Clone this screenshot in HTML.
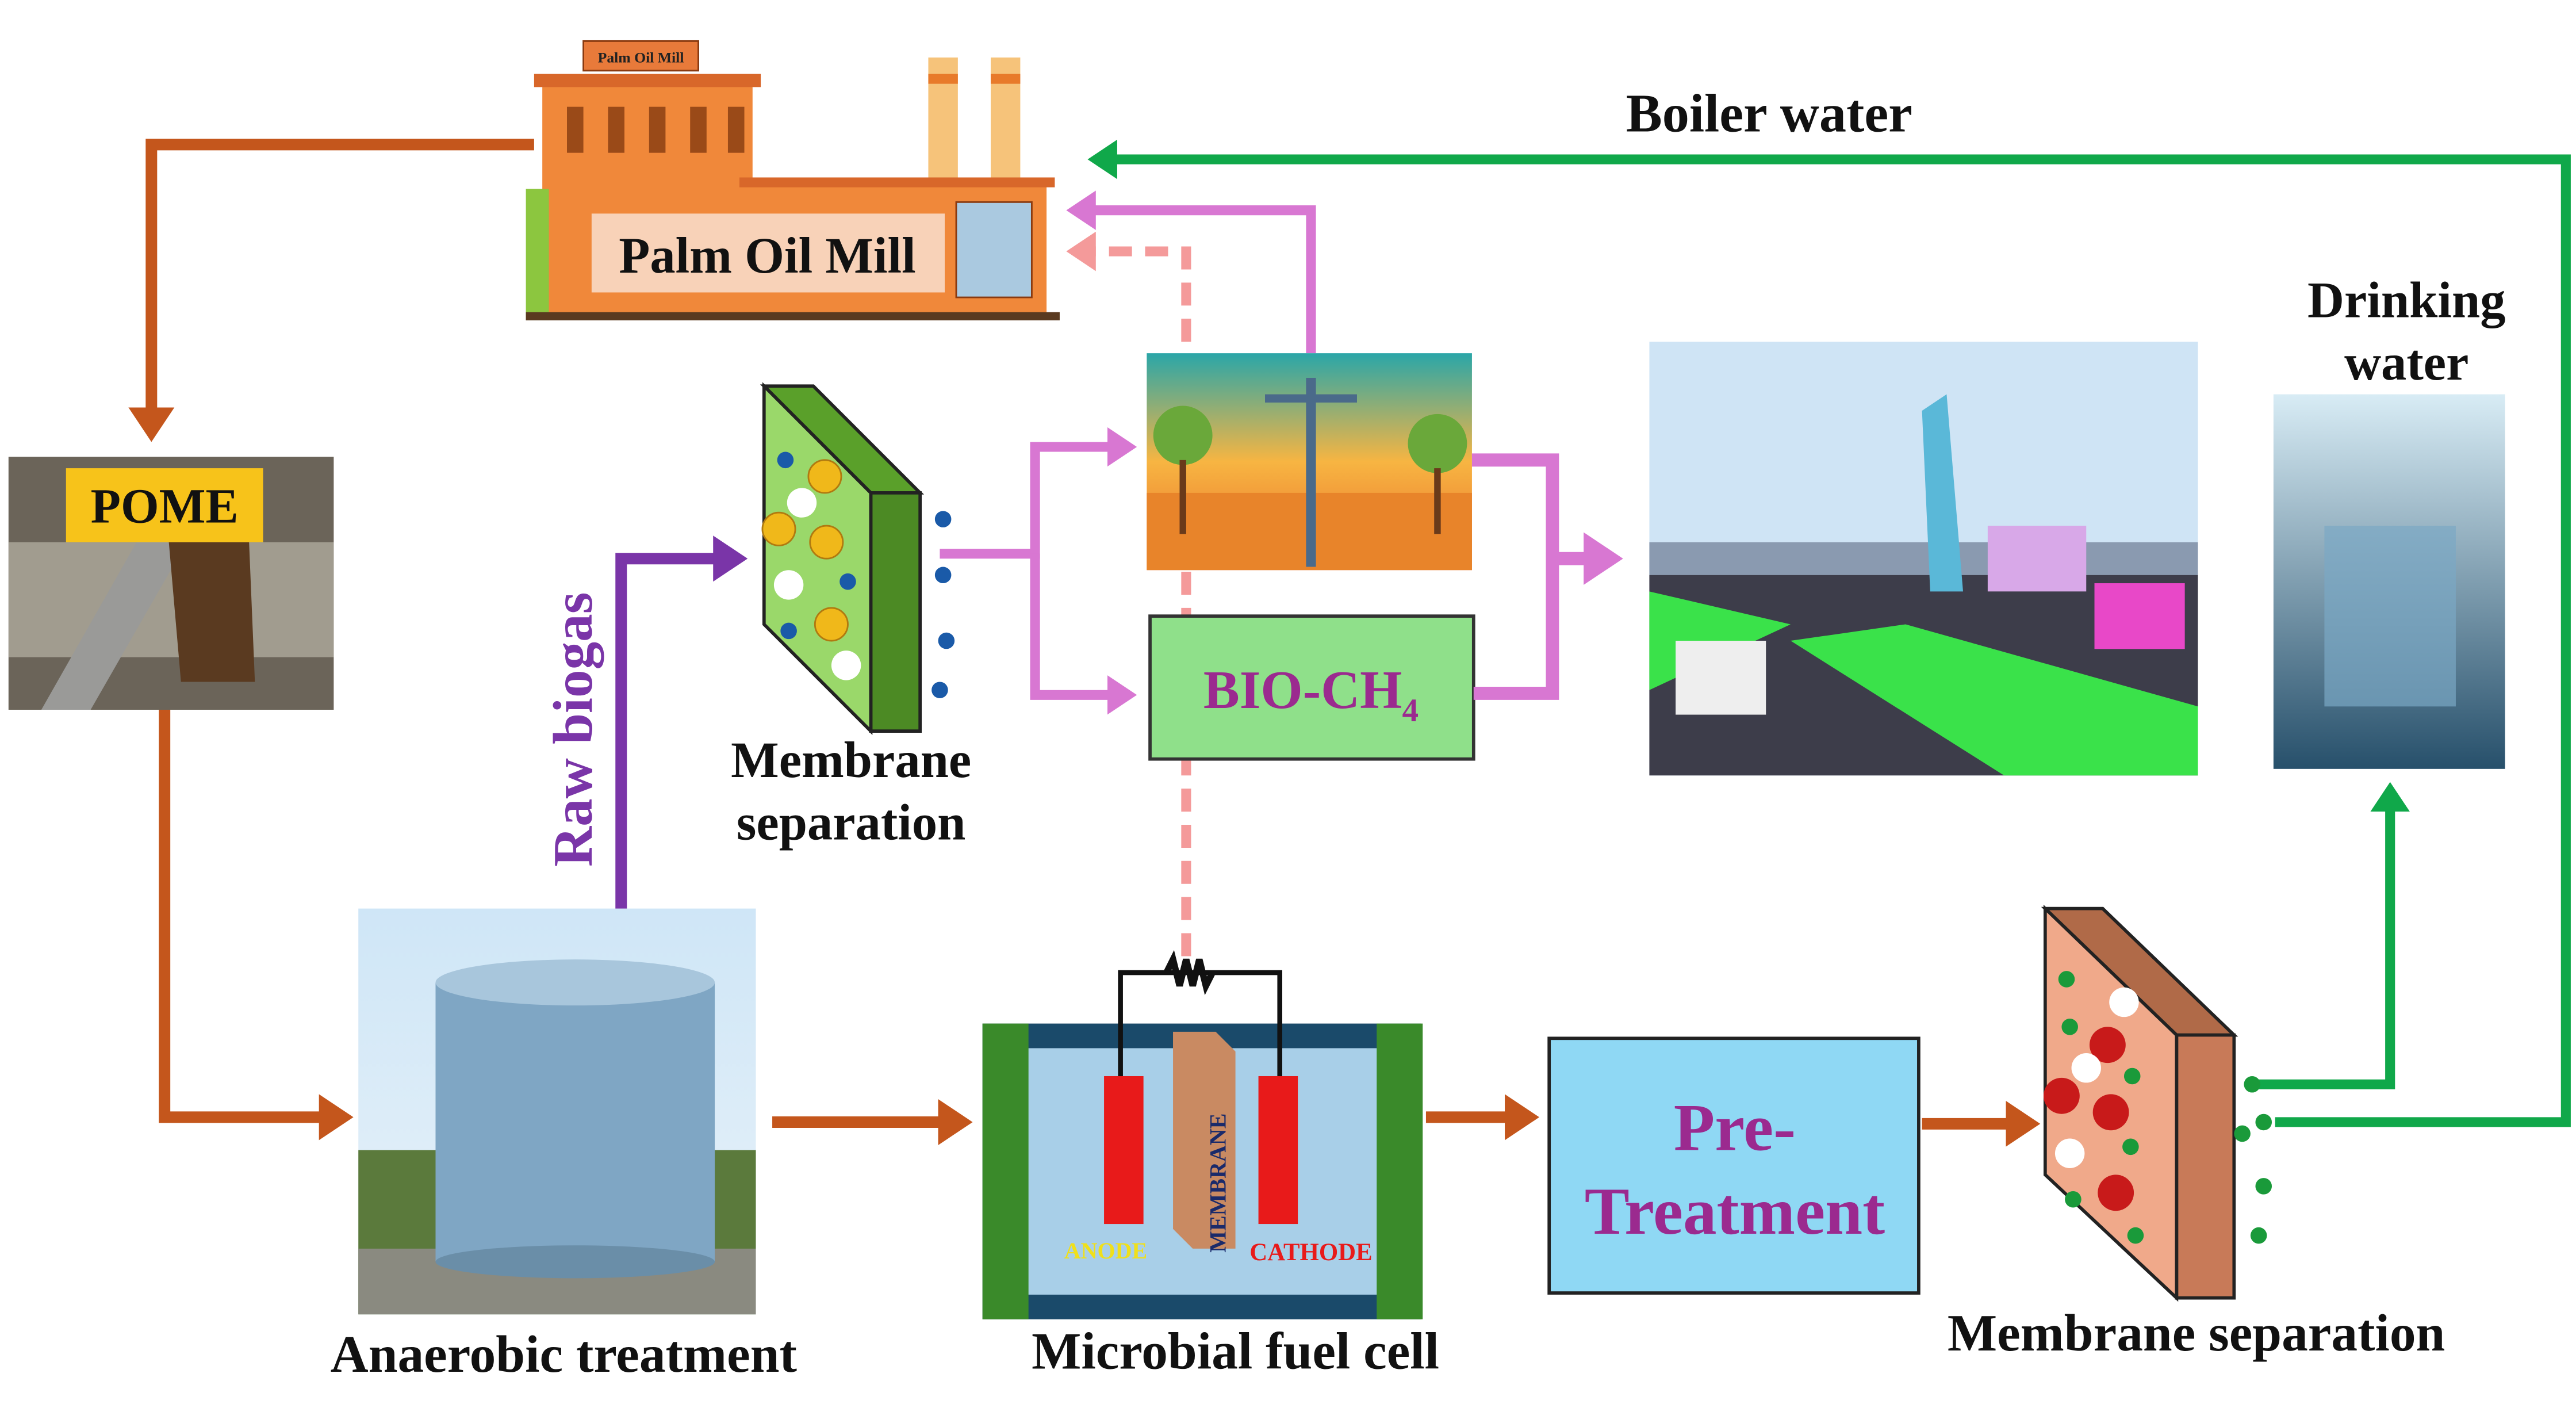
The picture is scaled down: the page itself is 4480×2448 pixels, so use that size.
<!DOCTYPE html>
<html><head><meta charset="utf-8"><style>html,body{margin:0;padding:0;background:#fff}svg{display:block}text{font-family:"Liberation Serif",serif;font-weight:bold}</style></head>
<body>
<svg width="4480" height="2448" viewBox="0 0 1568 857" xmlns="http://www.w3.org/2000/svg">
<defs>
<marker id="ao" markerWidth="4" markerHeight="4" refX="2" refY="2" orient="auto" markerUnits="strokeWidth"><path d="M0,0 L3,2 L0,4z" fill="#c4561c"/></marker>
<marker id="ap" markerWidth="4" markerHeight="4" refX="2" refY="2" orient="auto" markerUnits="strokeWidth"><path d="M0,0 L3,2 L0,4z" fill="#7a35a8"/></marker>
<marker id="ak" markerWidth="4" markerHeight="4" refX="2" refY="2" orient="auto" markerUnits="strokeWidth"><path d="M0,0 L3,2 L0,4z" fill="#d877d2"/></marker>
<marker id="ad" markerWidth="4" markerHeight="4" refX="2" refY="2" orient="auto" markerUnits="strokeWidth"><path d="M0,0 L3,2 L0,4z" fill="#f49a9a"/></marker>
<marker id="ag" markerWidth="4" markerHeight="4" refX="2" refY="2" orient="auto" markerUnits="strokeWidth"><path d="M0,0 L3,2 L0,4z" fill="#10a84a"/></marker>
<linearGradient id="sky" x1="0" y1="0" x2="0" y2="1"><stop offset="0" stop-color="#cfe6f7"/><stop offset="1" stop-color="#e8f2f8"/></linearGradient>
<linearGradient id="sun" x1="0" y1="0" x2="0" y2="1"><stop offset="0" stop-color="#2aa6a8"/><stop offset="0.5" stop-color="#f7b542"/><stop offset="1" stop-color="#e86a2a"/></linearGradient>
<linearGradient id="wat" x1="0" y1="0" x2="0" y2="1"><stop offset="0" stop-color="#d8ecf5"/><stop offset="1" stop-color="#27506b"/></linearGradient>
</defs>

<rect x="565" y="35" width="18" height="80" fill="#f6c37a"/><rect x="603" y="35" width="18" height="80" fill="#f6c37a"/>
<rect x="565" y="45" width="18" height="6" fill="#e87a2a"/><rect x="603" y="45" width="18" height="6" fill="#e87a2a"/>
<rect x="330" y="50" width="128" height="145" fill="#f0883a"/>
<rect x="325" y="45" width="138" height="8" fill="#d8672a"/>
<rect x="355" y="25" width="70" height="18" fill="#e87a3a" stroke="#8a3a10"/>
<text x="390" y="38" font-size="9" text-anchor="middle" fill="#222">Palm Oil Mill</text>
<g fill="#9a4a18"><rect x="345" y="65" width="10" height="28"/><rect x="370" y="65" width="10" height="28"/><rect x="395" y="65" width="10" height="28"/><rect x="420" y="65" width="10" height="28"/><rect x="443" y="65" width="10" height="28"/></g>
<rect x="455" y="112" width="182" height="83" fill="#f0883a"/>
<rect x="450" y="108" width="192" height="6" fill="#d8672a"/>
<rect x="320" y="115" width="14" height="80" fill="#8cc63f"/>
<rect x="582" y="123" width="46" height="58" fill="#aac9e0" stroke="#8a3a10"/>
<rect x="320" y="190" width="325" height="5" fill="#5a3a20"/>
<rect x="360" y="130" width="215" height="48" fill="#f8d2b8"/>
<text x="467" y="166" font-size="31" text-anchor="middle" fill="#111">Palm Oil Mill</text>

<polyline points="325,88 92,88 92,262" fill="none" stroke="#c4561c" stroke-width="7" marker-end="url(#ao)"/>
<rect x="5" y="278" width="198" height="154" fill="#6b6459"/>
<rect x="5" y="330" width="198" height="70" fill="#b8b4a6" opacity="0.7"/>
<path d="M25,432 L100,300 L125,310 L55,432z" fill="#9a9a98"/>
<path d="M100,300 L150,295 L155,415 L110,415z" fill="#5a3a20"/>
<rect x="40" y="285" width="120" height="45" fill="#f7c31a"/>
<text x="100" y="318" font-size="30" text-anchor="middle" fill="#111">POME</text>

<polyline points="100,432 100,680 208,680" fill="none" stroke="#c4561c" stroke-width="7" marker-end="url(#ao)"/>

<rect x="218" y="553" width="242" height="247" fill="url(#sky)"/>
<rect x="218" y="700" width="242" height="100" fill="#5b7a3c"/>
<rect x="218" y="760" width="242" height="40" fill="#8a8a80"/>
<rect x="265" y="598" width="170" height="170" fill="#7fa6c4"/>
<ellipse cx="350" cy="598" rx="85" ry="14" fill="#a8c6dc"/>
<ellipse cx="350" cy="768" rx="85" ry="10" fill="#6a8ea8"/>
<text x="343" y="835" font-size="32" text-anchor="middle" fill="#111">Anaerobic treatment</text>

<polyline points="378,553 378,340 448,340" fill="none" stroke="#7a35a8" stroke-width="7" marker-end="url(#ap)"/>
<text transform="translate(360,444) rotate(-90)" font-size="34" text-anchor="middle" fill="#7a35a8">Raw biogas</text>

<polygon points="465,235 495,235 560,300 530,300" fill="#5aa02a" stroke="#222" stroke-width="2"/>
<polygon points="530,300 560,300 560,445 530,445" fill="#4c8a24" stroke="#222" stroke-width="2"/>
<polygon points="465,235 530,300 530,445 465,380" fill="#9ad86a" stroke="#222" stroke-width="2"/>
<g fill="#f0b81a" stroke="#b07a10"><circle cx="502" cy="290" r="10"/><circle cx="474" cy="322" r="10"/><circle cx="503" cy="330" r="10"/><circle cx="506" cy="380" r="10"/></g>
<g fill="#fff"><circle cx="488" cy="306" r="9"/><circle cx="480" cy="356" r="9"/><circle cx="515" cy="405" r="9"/></g>
<g fill="#1a5aa8"><circle cx="478" cy="280" r="5"/><circle cx="516" cy="354" r="5"/><circle cx="480" cy="384" r="5"/><circle cx="574" cy="316" r="5"/><circle cx="574" cy="350" r="5"/><circle cx="576" cy="390" r="5"/><circle cx="572" cy="420" r="5"/></g>
<text x="518" y="473" font-size="31" text-anchor="middle" fill="#111">Membrane</text>
<text x="518" y="511" font-size="31" text-anchor="middle" fill="#111">separation</text>

<polyline points="572,337 630,337 630,272 686,272" fill="none" stroke="#d877d2" stroke-width="6" marker-end="url(#ak)"/>
<polyline points="630,337 630,423 686,423" fill="none" stroke="#d877d2" stroke-width="6" marker-end="url(#ak)"/>
<polyline points="798,215 798,128 655,128" fill="none" stroke="#d877d2" stroke-width="6" marker-end="url(#ak)"/>
<polyline points="722,582 722,153 655,153" fill="none" stroke="#f49a9a" stroke-width="6" stroke-dasharray="14,8" marker-end="url(#ad)"/>

<rect x="698" y="215" width="198" height="132" fill="url(#sun)"/>
<rect x="698" y="300" width="198" height="47" fill="#e8842a"/>
<rect x="795" y="230" width="6" height="115" fill="#4a6a8a"/>
<rect x="770" y="240" width="56" height="5" fill="#4a6a8a"/>
<circle cx="720" cy="265" r="18" fill="#6aa83a"/><circle cx="875" cy="270" r="18" fill="#6aa83a"/>
<rect x="718" y="280" width="4" height="45" fill="#6a3a1a"/><rect x="873" y="285" width="4" height="40" fill="#6a3a1a"/>

<rect x="700" y="375" width="197" height="87" fill="#8fe08a" stroke="#333" stroke-width="2"/>
<text x="798" y="431" font-size="33" text-anchor="middle" fill="#9b2a8f">BIO-CH<tspan font-size="20" dy="8">4</tspan></text>

<polyline points="896,280 945,280 945,340" fill="none" stroke="#d877d2" stroke-width="8"/>
<polyline points="897,422 945,422 945,340 980,340" fill="none" stroke="#d877d2" stroke-width="8" marker-end="url(#ak)"/>

<rect x="1004" y="208" width="334" height="264" fill="#cfe4f5"/>
<rect x="1004" y="330" width="334" height="20" fill="#8a9ab0"/>
<polygon points="1004,350 1338,350 1338,472 1004,472" fill="#3d3d4a"/>
<polygon points="1090,390 1160,380 1338,430 1338,472 1220,472" fill="#3ae24a"/>
<polygon points="1004,360 1090,380 1004,420" fill="#3ae24a"/>
<polygon points="1170,250 1185,240 1195,360 1175,360" fill="#5ab8d8"/>
<rect x="1210" y="320" width="60" height="40" fill="#d8a8e8"/>
<rect x="1275" y="355" width="55" height="40" fill="#e848c8"/>
<rect x="1020" y="390" width="55" height="45" fill="#eeeeee"/>

<polyline points="1385,683 1562,683 1562,97 668,97" fill="none" stroke="#10a84a" stroke-width="6" marker-end="url(#ag)"/>
<text x="1077" y="80" font-size="33" text-anchor="middle" fill="#111">Boiler water</text>
<polyline points="1370,660 1455,660 1455,482" fill="none" stroke="#10a84a" stroke-width="6" marker-end="url(#ag)"/>

<rect x="1384" y="240" width="141" height="228" fill="url(#wat)"/>
<rect x="1415" y="320" width="80" height="110" fill="#7aa8c4" opacity="0.7"/>
<text x="1465" y="193" font-size="31" text-anchor="middle" fill="#111">Drinking</text>
<text x="1465" y="231" font-size="31" text-anchor="middle" fill="#111">water</text>

<line x1="470" y1="683" x2="585" y2="683" stroke="#c4561c" stroke-width="7" marker-end="url(#ao)"/>
<line x1="868" y1="680" x2="930" y2="680" stroke="#c4561c" stroke-width="7" marker-end="url(#ao)"/>
<line x1="1170" y1="684" x2="1235" y2="684" stroke="#c4561c" stroke-width="7" marker-end="url(#ao)"/>

<rect x="598" y="623" width="267" height="180" fill="#1a4a6a"/>
<rect x="612" y="638" width="240" height="150" fill="#a8cfe8"/>
<rect x="598" y="623" width="28" height="180" fill="#3a8a2a"/>
<rect x="838" y="623" width="28" height="180" fill="#3a8a2a"/>
<polyline points="682,660 682,592 779,592 779,660" fill="none" stroke="#111" stroke-width="3"/>
<path d="M710,592 l4,-8 l4,16 l4,-16 l4,16 l4,-16 l4,16 l4,-8" fill="none" stroke="#111" stroke-width="4"/>
<rect x="672" y="655" width="24" height="90" fill="#e81a1a"/>
<rect x="766" y="655" width="24" height="90" fill="#e81a1a"/>
<polygon points="714,628 740,628 752,640 752,760 726,760 714,748" fill="#c98a62"/>
<text transform="translate(746,720) rotate(-90)" font-size="14" text-anchor="middle" fill="#1a2a6a">MEMBRANE</text>
<text x="673" y="766" font-size="14" text-anchor="middle" fill="#f0e01a">ANODE</text>
<text x="798" y="767" font-size="15" text-anchor="middle" fill="#e81a1a">CATHODE</text>
<text x="752" y="833" font-size="32" text-anchor="middle" fill="#111">Microbial fuel cell</text>

<rect x="943" y="632" width="225" height="155" fill="#8fd8f4" stroke="#222" stroke-width="2"/>
<text x="1056" y="700" font-size="41" text-anchor="middle" fill="#9b2a8f">Pre-</text>
<text x="1056" y="751" font-size="41" text-anchor="middle" fill="#9b2a8f">Treatment</text>

<polygon points="1245,553 1280,553 1360,630 1325,630" fill="#b06a48" stroke="#222" stroke-width="2"/>
<polygon points="1325,630 1360,630 1360,790 1325,790" fill="#c87a58" stroke="#222" stroke-width="2"/>
<polygon points="1245,553 1325,630 1325,790 1245,715" fill="#f0a98a" stroke="#222" stroke-width="2"/>
<g fill="#c81a1a"><circle cx="1283" cy="636" r="11"/><circle cx="1255" cy="667" r="11"/><circle cx="1285" cy="677" r="11"/><circle cx="1288" cy="726" r="11"/></g>
<g fill="#fff"><circle cx="1293" cy="610" r="9"/><circle cx="1270" cy="650" r="9"/><circle cx="1260" cy="702" r="9"/></g>
<g fill="#1a9a3a"><circle cx="1258" cy="596" r="5"/><circle cx="1260" cy="625" r="5"/><circle cx="1298" cy="655" r="5"/><circle cx="1297" cy="698" r="5"/><circle cx="1262" cy="730" r="5"/><circle cx="1300" cy="752" r="5"/><circle cx="1371" cy="660" r="5"/><circle cx="1378" cy="683" r="5"/><circle cx="1365" cy="690" r="5"/><circle cx="1378" cy="722" r="5"/><circle cx="1375" cy="752" r="5"/></g>
<text x="1337" y="822" font-size="32" text-anchor="middle" fill="#111">Membrane separation</text>
</svg>
</body></html>
